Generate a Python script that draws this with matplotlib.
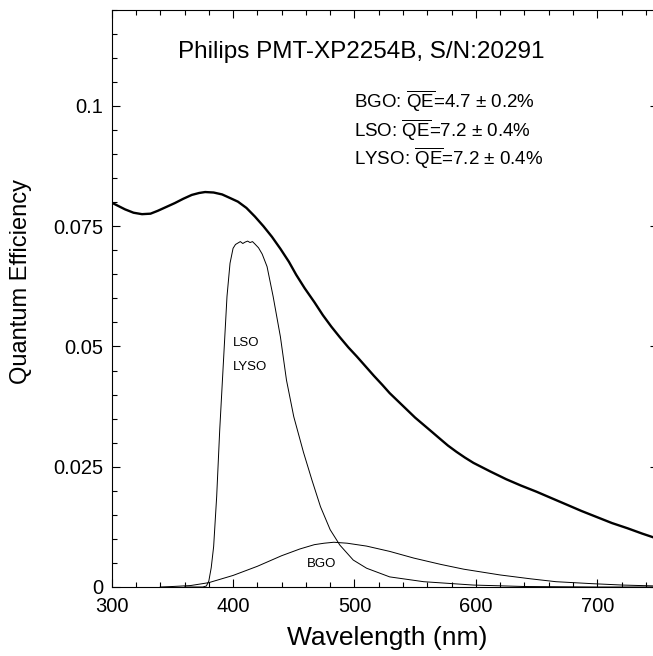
import numpy as np
import matplotlib
matplotlib.use("Agg")
import matplotlib.pyplot as plt
from matplotlib.ticker import MultipleLocator, FuncFormatter

plt.rcParams['font.family'] = ['Liberation Sans', 'DejaVu Sans']
plt.rcParams['mathtext.fontset'] = 'custom'
plt.rcParams['mathtext.rm'] = 'Liberation Sans'

# PMT quantum efficiency (thick curve)
pmt_wl = [300, 311, 318, 325, 332, 338, 345, 352, 359, 366, 372, 377, 384, 391,
          398, 404, 411, 418, 425, 432, 439, 446, 452, 459, 467, 474, 481, 488,
          495, 502, 509, 516, 523, 529, 536, 543, 550, 557, 564, 570, 577, 584,
          591, 598, 605, 612, 625, 637, 650, 662, 675, 687, 700, 712, 725, 737,
          750]
pmt_qe = [0.0799, 0.0785, 0.0778, 0.0775, 0.0776, 0.0782, 0.0790, 0.0798, 0.0807,
          0.0815, 0.0819, 0.0821, 0.0820, 0.0816, 0.0808, 0.0801, 0.0788, 0.0770,
          0.0750, 0.0728, 0.0703, 0.0676, 0.0649, 0.0621, 0.0592, 0.0565, 0.0541,
          0.0519, 0.0498, 0.0479, 0.0459, 0.0439, 0.0420, 0.0403, 0.0386, 0.0369,
          0.0352, 0.0337, 0.0322, 0.0309, 0.0294, 0.0281, 0.0269, 0.0258, 0.0249,
          0.0240, 0.0224, 0.0211, 0.0198, 0.0185, 0.0171, 0.0158, 0.0145, 0.0133,
          0.0122, 0.0111, 0.0100]

# LSO / LYSO emission (scaled)
lso_wl = [360, 375, 378, 380, 382, 384, 386.5, 389, 392, 395, 397.5, 400, 402,
          404, 406, 408, 410, 412, 414, 416, 418, 421, 424, 428, 433, 439, 444,
          450, 458, 465, 472, 480, 488, 499, 510, 529, 557, 598, 640, 700, 750]
lso_qe = [0.0, 0.0, 0.0002, 0.0012, 0.0040, 0.0084, 0.0188, 0.0326, 0.0465,
          0.0604, 0.0673, 0.0704, 0.0712, 0.0715, 0.0718, 0.0714, 0.0717, 0.0719,
          0.0716, 0.0718, 0.0713, 0.0705, 0.0692, 0.0666, 0.0604, 0.0520, 0.0430,
          0.0354, 0.0280, 0.0222, 0.0167, 0.0119, 0.0087, 0.0056, 0.0039, 0.0021,
          0.0011, 0.0004, 0.0001, 0.0, 0.0]

# BGO emission (scaled)
bgo_wl = [340, 350, 365, 380, 400, 420, 440, 455, 467, 475, 483, 494, 510, 529,
          549, 571, 590, 620, 645, 666, 695, 721, 750]
bgo_qe = [0.0, 0.0001, 0.0003, 0.0009, 0.0024, 0.0043, 0.0065, 0.0079, 0.0088,
          0.0091, 0.0093, 0.0091, 0.0085, 0.0074, 0.0060, 0.0047, 0.0037, 0.0025,
          0.0017, 0.0011, 0.0007, 0.0004, 0.0002]

fig = plt.figure(figsize=(6.53, 6.56), dpi=100)
ax = fig.add_axes([0.171, 0.1052, 0.8366, 0.880])

ax.plot(pmt_wl, pmt_qe, color='black', lw=1.7)
ax.plot(lso_wl, lso_qe, color='black', lw=0.7)
ax.plot(bgo_wl, bgo_qe, color='black', lw=0.7)

ax.set_xlim(300, 750)
ax.set_ylim(0, 0.12)
ax.xaxis.set_major_locator(MultipleLocator(100))
ax.xaxis.set_minor_locator(MultipleLocator(20))
ax.yaxis.set_major_locator(MultipleLocator(0.025))
ax.yaxis.set_minor_locator(MultipleLocator(0.005))
ax.yaxis.set_major_formatter(FuncFormatter(lambda v, p: '%g' % round(v, 4)))

ax.tick_params(which='both', direction='in', top=True, right=True, width=0.8,
               labelsize=14.5)
ax.tick_params(which='major', length=6)
ax.tick_params(which='minor', length=3.5)
ax.tick_params(axis='x', pad=7)
ax.tick_params(axis='y', pad=6)
for s in ax.spines.values():
    s.set_linewidth(0.8)

# axis titles placed by hand to sit where the original has them
ax.text(0.505, -0.0875, 'Wavelength (nm)', fontsize=19, ha='center',
        va='center', transform=ax.transAxes)
ax.text(-0.166, 0.530, 'Quantum Efficiency', fontsize=17, rotation=90,
        ha='center', va='center', transform=ax.transAxes)

ax.text(506, 0.1112, 'Philips PMT-XP2254B, S/N:20291', fontsize=17.5,
        ha='center', va='center')
ax.text(500, 0.1012, r'BGO: $\overline{\mathrm{QE}}$=4.7 ± 0.2%', fontsize=13.5,
        va='center')
ax.text(500, 0.0950, r'LSO: $\overline{\mathrm{QE}}$=7.2 ± 0.4%', fontsize=13.5,
        va='center')
ax.text(500, 0.0892, r'LYSO: $\overline{\mathrm{QE}}$=7.2 ± 0.4%', fontsize=13.5,
        va='center')

ax.text(400, 0.0508, 'LSO', fontsize=9.5, va='center')
ax.text(400, 0.0458, 'LYSO', fontsize=9.5, va='center')
ax.text(473, 0.0048, 'BGO', fontsize=9.5, ha='center', va='center')

fig.savefig('out.png', dpi=100)
